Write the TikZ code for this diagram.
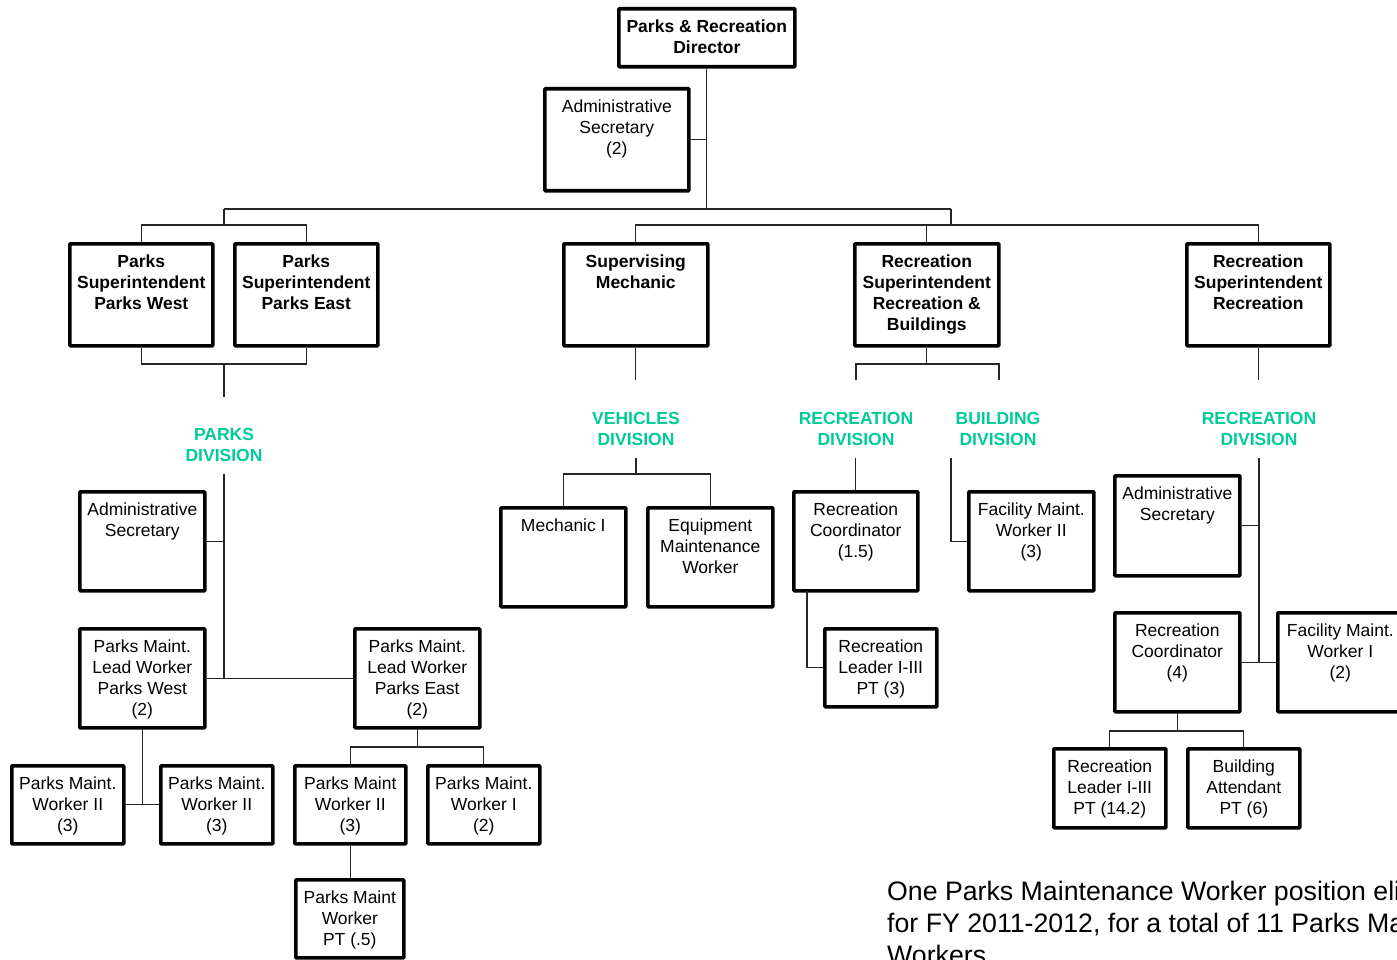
\documentclass[tikz,border=0pt]{standalone}
\usepackage{fontspec}
\setmainfont{Liberation Sans}
\definecolor{divgreen}{RGB}{0,204,153}
\tikzset{
  box/.style={draw=black, line width=3.6pt, rounded corners=0.8pt, inner sep=0pt, fill=white},
  txt/.style={inner sep=0pt, align=center, font=\fontsize{17.5}{21}\selectfont},
  hdr/.style={font=\fontsize{17.5}{21}\selectfont\bfseries},
  divlbl/.style={inner sep=0pt, align=center, text=divgreen, font=\fontsize{17.5}{21}\selectfont\bfseries, anchor=north},
  conn/.style={draw=black!85, line width=1.3pt},
  note/.style={inner sep=0pt, align=left, anchor=north west, font=\fontsize{26.7}{32}\selectfont}
}
\newcommand\obox[7][]{%
  \node[box, minimum width={#5-#3-4}, minimum height={#6-#4-4}, anchor=north west] (#2) at (#3,#4) {};
  \node[txt, anchor=north, #1] (#2-t) at ([yshift=-12.5pt]#2.north) {#7};
}
\begin{document}
\begin{tikzpicture}[x=1pt, y=-1pt]
\useasboundingbox (0,0) rectangle (1397,960);
\clip (0,0) rectangle (1397,960);
\fill[white] (0,0) rectangle (1397,960);
% boxes
\obox[hdr]{dir}{617}{7}{797}{69}{Parks \& Recreation\\Director}
\obox{asec}{543}{87}{691}{193}{Administrative\\Secretary\\(2)}
\obox[hdr]{psw}{68}{242}{215}{348}{Parks\\Superintendent\\Parks West}
\obox[hdr]{pse}{233}{242}{380}{348}{Parks\\Superintendent\\Parks East}
\obox[hdr]{smech}{562}{242}{710}{348}{Supervising\\Mechanic}
\obox[hdr]{rsrb}{853}{242}{1001}{348}{Recreation\\Superintendent\\Recreation \&\\Buildings}
\obox[hdr]{rsr}{1185}{242}{1332}{348}{Recreation\\Superintendent\\Recreation}
\obox{pasec}{78}{490}{207}{593}{Administrative\\Secretary}
\obox{plw}{78}{627}{207}{730}{Parks Maint.\\Lead Worker\\Parks West\\(2)}
\obox{ple}{353}{627}{482}{730}{Parks Maint.\\Lead Worker\\Parks East\\(2)}
\obox{pwa}{10}{764}{126}{846}{Parks Maint.\\Worker II\\(3)}
\obox{pwb}{159}{764}{275}{846}{Parks Maint.\\Worker II\\(3)}
\obox{pwc}{293}{764}{408}{846}{Parks Maint\\Worker II\\(3)}
\obox{pwd}{426}{764}{542}{846}{Parks Maint.\\Worker I\\(2)}
\obox{ppt}{294}{878}{406}{960}{Parks Maint\\Worker\\PT (.5)}
\obox{mech}{499}{506}{628}{609}{Mechanic I}
\obox{equip}{646}{506}{775}{609}{Equipment\\Maintenance\\Worker}
\obox{rc15}{792}{490}{920}{593}{Recreation\\Coordinator\\(1.5)}
\obox{fm2}{967}{490}{1096}{593}{Facility Maint.\\Worker II\\(3)}
\obox{rl3}{823}{627}{939}{709}{Recreation\\Leader I-III\\PT (3)}
\obox{rasec}{1113}{474}{1242}{578}{Administrative\\Secretary}
\obox{rc4}{1113}{611}{1242}{714}{Recreation\\Coordinator\\(4)}
\obox{fm1}{1276}{611}{1405}{714}{Facility Maint.\\Worker I\\(2)}
\obox{rl14}{1052}{747}{1168}{830}{Recreation\\Leader I-III\\PT (14.2)}
\obox{batt}{1186}{747}{1302}{830}{Building\\Attendant\\PT (6)}
% division labels
\node[divlbl] (pdiv) at (224,428) {PARKS\\DIVISION};
\node[divlbl] (vdiv) at (636,412) {VEHICLES\\DIVISION};
\node[divlbl] (rdiv1) at (856,412) {RECREATION\\DIVISION};
\node[divlbl] (bdiv) at (998,412) {BUILDING\\DIVISION};
\node[divlbl] (rdiv2) at (1259,412) {RECREATION\\DIVISION};
% note
\node[note] (note) at (887,881) {One Parks Maintenance Worker position eliminated\\for FY 2011-2012, for a total of 11 Parks Maintenance\\Workers};
% helper rows
\coordinate (yA) at (0,209);
\coordinate (y364) at (0,364);
\coordinate (y380) at (0,380);
\coordinate (y458) at (0,458);
\coordinate (y731) at (0,731);
\coordinate (y747) at (0,747);
% top level
\coordinate (jT) at (dir.south |- yA);
\draw[conn] (dir.south) -- (jT);
\draw[conn] (asec.east) -- (asec.east -| dir.south);
\coordinate (jL) at (224,209);
\coordinate (jR) at (951,209);
\coordinate (jL2) at (224,225);
\coordinate (jR2) at (951,225);
\draw[conn] (jL) -- (jR);
\draw[conn] (jL) -- (jL2);
\draw[conn] (psw.north) |- (jL2) -| (pse.north);
\draw[conn] (jR) -- (jR2);
\draw[conn] (smech.north) |- (jR2) -| (rsr.north);
\draw[conn] (rsrb.north) -- (rsrb.north |- jR2);
% parks
\coordinate (pj1) at (224,364);
\coordinate (pj2) at (224,397);
\draw[conn] (psw.south) |- (pj1) -| (pse.south);
\draw[conn] (pj1) -- (pj2);
\coordinate (pv1) at (224,474);
\draw[conn] (pv1) -- (pv1 |- plw.east);
\draw[conn] (pasec.east) -- (pasec.east -| pv1);
\draw[conn] (plw.east) -- (ple.west);
\draw[conn] (plw.south) -- (plw.south |- pwa.east);
\draw[conn] (pwa.east) -- (pwb.west);
\coordinate (ej) at (ple.south |- y747);
\draw[conn] (ple.south) -- (ej);
\draw[conn] (pwc.north) |- (ej) -| (pwd.north);
\draw[conn] (pwc.south) -- (pwc.south |- ppt.north);
% vehicles
\coordinate (vj1) at (smech.south |- y380);
\draw[conn] (smech.south) -- (vj1);
\coordinate (vj2) at (636,458);
\coordinate (vj3) at (636,474);
\draw[conn] (vj2) -- (vj3);
\draw[conn] (mech.north) |- (vj3) -| (equip.north);
% recreation & buildings
\coordinate (rbj) at (rsrb.south |- y364);
\draw[conn] (rsrb.south) -- (rbj);
\coordinate (rb1) at (856,380);
\coordinate (rb2) at (999,380);
\draw[conn] (rb1) |- (rbj) -| (rb2);
\coordinate (rv1) at (rc15.north |- y458);
\draw[conn] (rv1) -- (rc15.north);
\coordinate (bv1) at (951,458);
\draw[conn] (bv1) |- (fm2.west);
\coordinate (rcj) at (807,591);
\draw[conn] (rcj) |- (rl3.west);
% recreation
\coordinate (r2a) at (rsr.south |- y380);
\draw[conn] (rsr.south) -- (r2a);
\coordinate (r2b) at (1259,458);
\draw[conn] (r2b) -- (r2b |- rc4.east);
\draw[conn] (rasec.east) -- (rasec.east -| r2b);
\draw[conn] (rc4.east) -- (fm1.west);
\coordinate (r4j) at (rc4.south |- y731);
\draw[conn] (rc4.south) -- (r4j);
\draw[conn] (rl14.north) |- (r4j) -| (batt.north);
\end{tikzpicture}
\end{document}
